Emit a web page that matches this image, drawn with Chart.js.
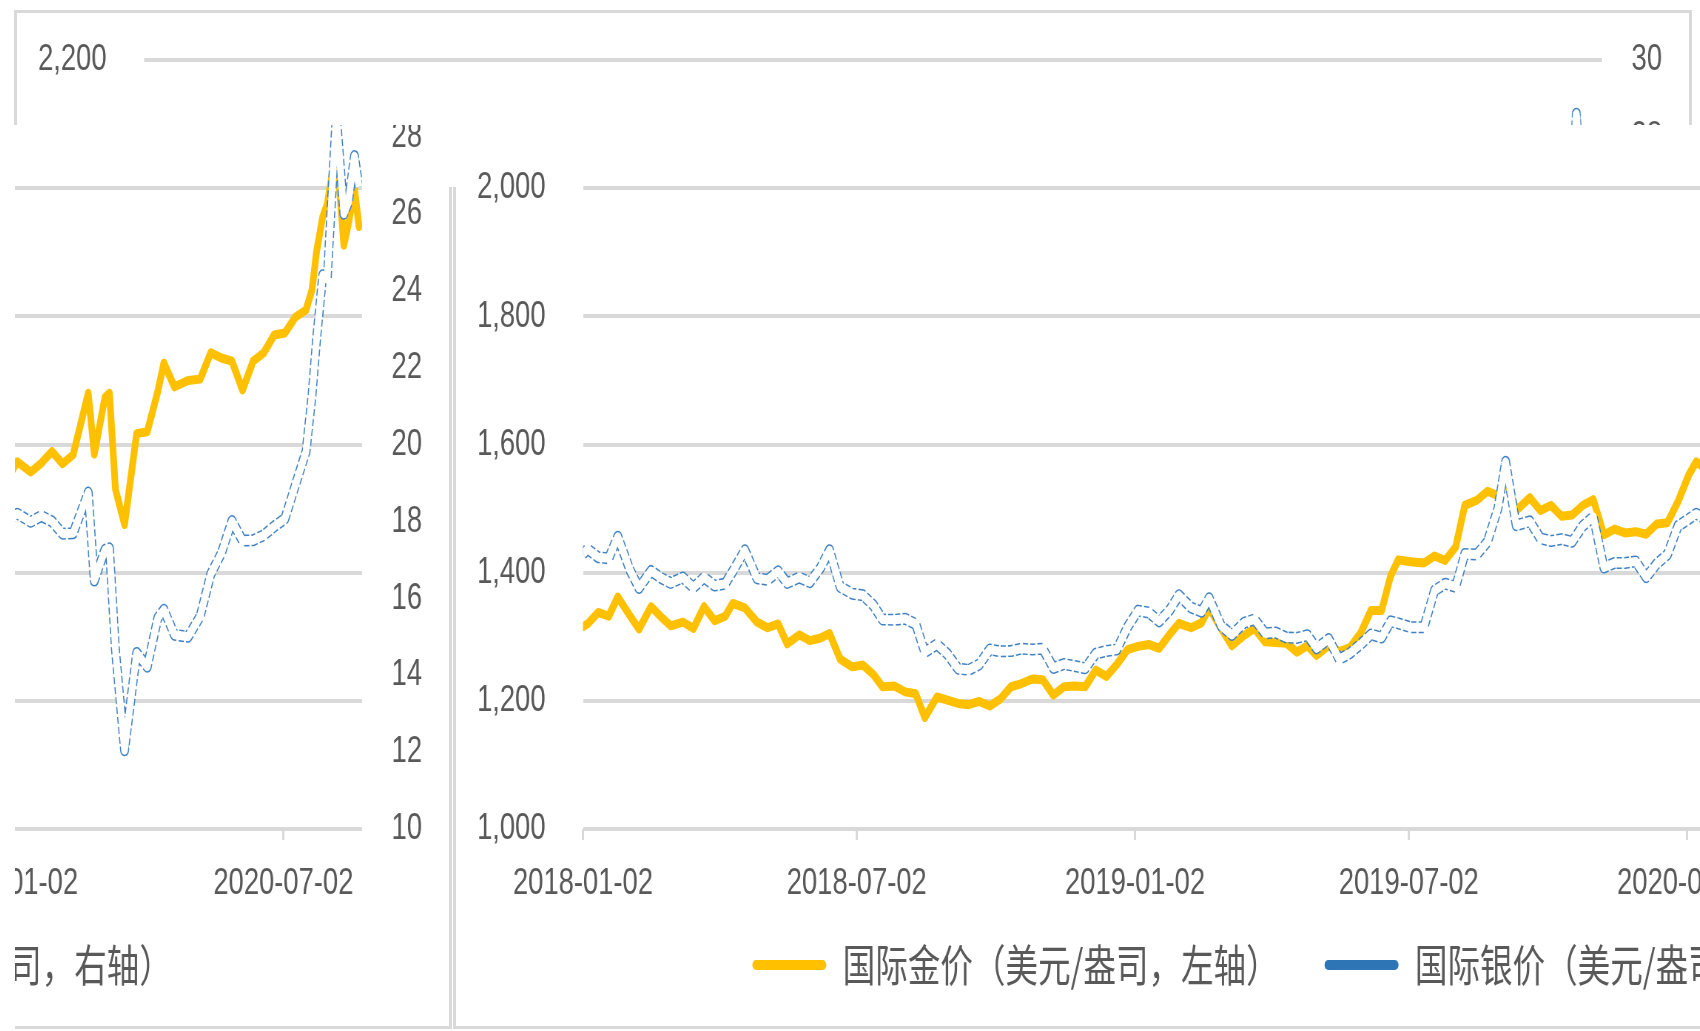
<!DOCTYPE html>
<html><head><meta charset="utf-8">
<script src="https://cdn.jsdelivr.net/npm/chart.js@4.4.1/dist/chart.umd.min.js"></script>
<style>
html,body{margin:0;padding:0;background:#fff;}
body{width:1700px;height:1031px;position:relative;overflow:hidden;}
.vp{position:absolute;overflow:hidden;}
.orig{position:absolute;width:1678px;height:1019px;border:3px solid #d9d9d9;box-sizing:border-box;background:#fff;}
.sq{position:absolute;left:0;top:0;height:1013px;transform-origin:0 0;}
.cover{position:absolute;background:#fff;}
</style></head><body>
<div class="vp" id="vpTop" style="left:0;top:0;width:1700px;height:125px"></div>
<div class="vp" id="vpLeft" style="left:15px;top:125px;width:438px;height:906px"></div>
<div class="vp" id="vpMain" style="left:453px;top:125px;width:1247px;height:906px"></div>
<div class="cover" style="left:444px;top:125px;width:18px;height:62px"></div>
<script>
// ---- data ----
const dates = [
'2018-01-02','2018-01-05','2018-01-12','2018-01-19','2018-01-25','2018-02-02','2018-02-08','2018-02-16','2018-02-23','2018-03-01',
'2018-03-09','2018-03-16','2018-03-23','2018-03-30','2018-04-06','2018-04-11','2018-04-19','2018-04-27','2018-05-04','2018-05-11',
'2018-05-17','2018-05-25','2018-06-01','2018-06-08','2018-06-14','2018-06-21','2018-06-29','2018-07-06','2018-07-13','2018-07-19',
'2018-07-27','2018-08-03','2018-08-10','2018-08-16','2018-08-24','2018-08-31','2018-09-07','2018-09-14','2018-09-21','2018-09-28',
'2018-10-05','2018-10-12','2018-10-19','2018-10-26','2018-11-02','2018-11-09','2018-11-16','2018-11-23','2018-11-30','2018-12-07',
'2018-12-14','2018-12-21','2018-12-28',
'2019-01-04','2019-01-11','2019-01-18','2019-01-25','2019-01-31','2019-02-08','2019-02-15','2019-02-20','2019-02-28','2019-03-07',
'2019-03-15','2019-03-22','2019-03-29','2019-04-05','2019-04-12','2019-04-19','2019-04-26','2019-05-02','2019-05-10','2019-05-17',
'2019-05-24','2019-05-31','2019-06-07','2019-06-14','2019-06-20','2019-06-25','2019-07-03','2019-07-12','2019-07-19','2019-07-26',
'2019-08-02','2019-08-08','2019-08-16','2019-08-23','2019-08-30','2019-09-04','2019-09-11','2019-09-20','2019-09-27','2019-10-04',
'2019-10-11','2019-10-18','2019-10-25','2019-11-01','2019-11-08','2019-11-15','2019-11-22','2019-11-29','2019-12-06','2019-12-13',
'2019-12-20','2019-12-27',
'2020-01-03','2020-01-08','2020-01-17','2020-01-24','2020-01-31','2020-02-07','2020-02-14','2020-02-24','2020-02-28','2020-03-06',
'2020-03-09','2020-03-13','2020-03-19','2020-03-27','2020-04-03','2020-04-10','2020-04-14','2020-04-21','2020-04-30','2020-05-08',
'2020-05-15','2020-05-22','2020-05-29','2020-06-05','2020-06-12','2020-06-19','2020-06-26','2020-07-03','2020-07-10','2020-07-17',
'2020-07-21','2020-07-24','2020-07-28','2020-07-31','2020-08-06','2020-08-11','2020-08-14','2020-08-18','2020-08-21'
];
const gold = [
1316,1320,1338,1332,1362,1333,1312,1347,1330,1317, 1323,1313,1347,1325,1332,1352,1345,1323,1314,1320,
1289,1303,1294,1298,1305,1265,1253,1256,1241,1222, 1223,1214,1211,1174,1206,1201,1196,1194,1199,1192,
1203,1222,1227,1234,1233,1209,1222,1223,1222,1248, 1238,1257,1280,
1285,1288,1282,1304,1321,1314,1322,1345,1313,1286, 1302,1313,1292,1291,1290,1276,1286,1271,1286,1277,
1283,1305,1341,1341,1395,1420,1417,1415,1426,1419, 1440,1505,1513,1527,1520,1550,1497,1517,1497,1505,
1488,1490,1505,1514,1459,1468,1462,1464,1460,1476, 1478,1511,
1552,1573,1557,1571,1589,1570,1584,1680,1585,1673, 1680,1530,1475,1617,1620,1683,1727,1690,1700,1702,
1743,1735,1730,1685,1730,1743,1771,1774,1799,1810, 1842,1902,1955,1975,2063,1911,1944,2000,1940
];
const silver = [
17.15,17.28,17.07,17.04,17.60,16.74,16.27,16.71,16.52,16.40, 16.54,16.28,16.54,16.33,16.38,16.70,17.25,16.52,16.48,16.70,
16.40,16.54,16.42,16.79,17.25,16.30,16.12,16.08,15.82,15.45, 15.44,15.47,15.33,14.60,14.80,14.55,14.17,14.14,14.28,14.67,
14.62,14.63,14.69,14.67,14.69,14.19,14.29,14.24,14.18,14.56, 14.63,14.67,15.25,
15.68,15.63,15.40,15.70,16.08,15.76,15.65,16.00,15.28,15.05, 15.36,15.45,15.09,15.11,14.98,14.97,15.04,14.70,14.94,14.42,
14.57,14.80,15.06,14.98,15.40,15.35,15.25,15.25,16.20,16.38, 16.30,17.15,17.14,17.47,18.35,19.55,17.90,18.00,17.56,17.49,
17.54,17.47,17.88,18.12,16.80,16.92,16.92,16.96,16.55,16.90, 17.14,17.88,
18.06,18.20,17.99,18.14,18.00,17.68,17.69,18.75,16.46,17.26, 17.30,14.65,12.05,14.58,14.22,15.49,15.70,15.05,15.00,15.53,
16.63,17.17,18.01,17.50,17.51,17.64,17.87,18.07,18.95,19.82, 21.30,22.76,24.40,24.30,28.60,26.00,26.30,27.50,26.70
];
const seriesNames = ['国际金价（美元/盎司，左轴）','国际银价（美元/盎司，右轴）'];
const xTickDates = ['2018-01-02','2018-07-02','2019-01-02','2019-07-02','2020-01-02','2020-07-02'];
const xEndDate = '2020-08-23';

// ---- geometry / styles ----
const SX = 0.74;
const INNER_W = 1672, INNER_H = 1013;
const SQ_W = Math.round(INNER_W / SX);
const PAD_L = 21 / SX, PAD_R = SQ_W - 1645 / SX;
const PLOT_L = 127 / SX, PLOT_R = 1585 / SX, PLOT_T = 47, PLOT_B = 816;
const LEG_SIZE = 44, LEG_PAD = 62, PAD_B = 0, LEG_SHIFT_X = 17;
const LEG_H = LEG_SIZE + LEG_PAD + 10;
const X_H = INNER_H - PAD_B - LEG_H - PLOT_B;
const LEG_LIFT = (INNER_H - PAD_B - LEG_H + LEG_PAD + LEG_SIZE / 2) - 952;
const TXT = '#595959', GRID = '#d9d9d9';
const tickFont = {family: "'Liberation Sans', Arial, sans-serif", size: 37};
const legFont = {family: "'Noto Sans CJK SC', sans-serif", size: LEG_SIZE};

const t0 = Date.parse(dates[0]);
const dayOf = d => Math.round((Date.parse(d) - t0) / 86400000);
const xTickVals = xTickDates.map(dayOf);
const pts = arr => dates.map((d, i) => ({x: dayOf(d), y: arr[i]}));

const legendLift = {
  id: 'legendLift',
  afterLayout(chart) {
    const lg = chart.legend;
    if (lg) {
      lg.top -= LEG_LIFT; lg.bottom -= LEG_LIFT;
      lg.left += LEG_SHIFT_X; lg.right += LEG_SHIFT_X;
    }
  }
};

function makeConfig() {
  return {
    type: 'line',
    data: {datasets: [
      {label: seriesNames[0], data: pts(gold), yAxisID: 'y', borderColor: '#FFC000', backgroundColor: '#FFC000',
       borderWidth: 9, pointRadius: 0, order: 3, borderJoinStyle: 'round', borderCapStyle: 'round'},
      {label: seriesNames[1], data: pts(silver), yAxisID: 'y2', borderColor: '#3F80C4', backgroundColor: '#2E75B6',
       borderWidth: 12, borderDash: [7, 3], borderJoinStyle: 'round', pointRadius: 0, order: 2},
      {label: 'inner', data: pts(silver), yAxisID: 'y2', borderColor: '#ffffff', backgroundColor: '#ffffff',
       borderWidth: 9, borderJoinStyle: 'round', pointRadius: 0, order: 1}
    ]},
    plugins: [legendLift],
    options: {
      responsive: true, maintainAspectRatio: false, animation: false, devicePixelRatio: 1, events: [],
      layout: {padding: {top: PLOT_T, bottom: PAD_B, left: PAD_L, right: PAD_R}},
      plugins: {
        tooltip: {enabled: false},
        legend: {
          position: 'bottom',
          labels: {
            font: legFont, color: TXT, boxWidth: 100, boxHeight: 10, padding: LEG_PAD, useBorderRadius: true, borderRadius: 5,
            generateLabels(chart) {
              const items = Chart.defaults.plugins.legend.labels.generateLabels(chart);
              return items.filter(it => it.datasetIndex !== 2)
                .sort((a, b) => a.datasetIndex - b.datasetIndex)
                .map(it => Object.assign(it, {lineWidth: 0, lineDash: [], strokeStyle: it.fillStyle, borderRadius: 5}));
            }
          }
        }
      },
      scales: {
        x: {
          type: 'linear', min: 0, max: dayOf(xEndDate),
          afterBuildTicks(scale) { scale.ticks = xTickVals.map(v => ({value: v})); },
          afterFit(scale) { scale.height = X_H; },
          ticks: {autoSkip: false, maxRotation: 0, padding: 22, font: tickFont, color: TXT,
            callback: v => { const i = xTickVals.indexOf(v); return i >= 0 ? xTickDates[i] : ''; }},
          grid: {drawOnChartArea: false, drawTicks: true, tickLength: 11, color: GRID, lineWidth: 3},
          border: {display: false}
        },
        y: {
          position: 'left', min: 1000, max: 2200,
          afterFit(scale) { scale.width = PLOT_L - PAD_L; },
          ticks: {stepSize: 200, padding: 0, crossAlign: 'far', font: tickFont, color: TXT,
            callback: v => v.toLocaleString('en-US')},
          grid: {color: GRID, lineWidth: 4, drawTicks: false},
          border: {display: false}
        },
        y2: {
          position: 'right', min: 10, max: 30,
          afterFit(scale) { scale.width = SQ_W - PAD_R - PLOT_R; },
          ticks: {stepSize: 2, padding: 0, crossAlign: 'far', font: tickFont, color: TXT},
          grid: {display: false},
          border: {display: false}
        }
      }
    }
  };
}

function build(vpId, shiftX, vpLeft, vpTop) {
  const vp = document.getElementById(vpId);
  const o = document.createElement('div'); o.className = 'orig';
  o.style.left = (14 + shiftX - vpLeft) + 'px';
  o.style.top = (10 - vpTop) + 'px';
  const sq = document.createElement('div'); sq.className = 'sq';
  sq.style.width = SQ_W + 'px';
  sq.style.transform = 'scaleX(' + SX + ')';
  const cv = document.createElement('canvas');
  sq.appendChild(cv); o.appendChild(sq); vp.appendChild(o);
  new Chart(cv, makeConfig());
}
build('vpTop', 0, 0, 0);
build('vpLeft', -1240, 15, 125);
build('vpMain', 439, 453, 125);
</script>
</body></html>
